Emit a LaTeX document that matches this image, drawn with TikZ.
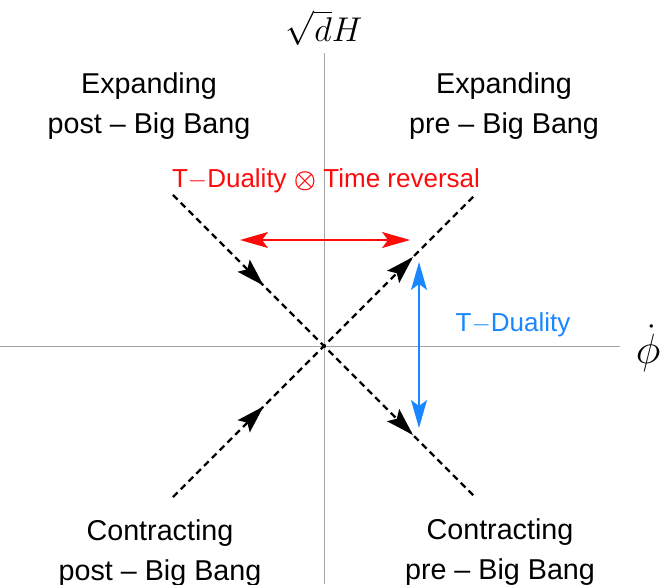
\documentclass[tikz,border=0pt]{standalone}
\usepackage{bm}
\usepackage{fontspec}
\setmainfont{Liberation Sans}
\usetikzlibrary{arrows.meta,decorations.markings}
\definecolor{dualred}{RGB}{255,10,10}
\definecolor{dualblue}{RGB}{25,135,255}
\definecolor{axisgray}{RGB}{165,165,165}

\begin{document}
\begin{tikzpicture}[x=1pt,y=1pt,
  quadrant/.style={align=center,font=\fontsize{28.7}{40}\selectfont},
  duallabel/.style={anchor=base,font=\fontsize{26}{30}\selectfont},
  flow/.style={line width=2.4pt,dash pattern=on 6.5pt off 4.5pt,postaction={decorate},
    decoration={markings,
      mark=at position 0.30 with {\arrow{Stealth[length=28pt,width=17pt,inset=5pt]}},
      mark=at position 0.795 with {\arrow{Stealth[length=28pt,width=17pt,inset=5pt]}}}},
  swap/.style={line width=1.5pt,{Stealth[length=28pt,width=16pt,inset=6pt]}-{Stealth[length=28pt,width=16pt,inset=6pt]}}]
\useasboundingbox (-324,-238) rectangle (342,346);

% axes
\draw [axisgray,line width=1pt] (-324,0) -- (296,0);
\draw [axisgray,line width=1pt] (0,-238) -- (0,293);
\node [scale=1.38] (ylab) at (0,318) {\Huge$\sqrt{d}H$};
\node [scale=1.7] (xlab) at (324,-2) {\Huge$\dot{\phi}$};

% trajectories
\coordinate (ul) at (-151,151);
\coordinate (lr) at (151,-151);
\coordinate (ll) at (-151,-151);
\coordinate (ur) at (151,151);
\draw [flow] (ul) -- (lr);
\draw [flow] (ll) -- (ur);

% dualities
\coordinate (redl) at (-84,106);
\coordinate (redr) at (86,106);
\draw [swap,dualred] (redl) -- (redr);
\node [duallabel,dualred] (redlab) at (2,158) {T$-$Duality $\bm{\otimes}$ Time reversal};
\coordinate (bluet) at (95,84);
\coordinate (blueb) at (95,-82);
\draw [swap,dualblue] (bluet) -- (blueb);
\node [duallabel,dualblue] (bluelab) at (189,15) {T$-$Duality};

% quadrants
\node [quadrant] (expost) at (-175,240) {Expanding\\post -- Big Bang};
\node [quadrant] (expre) at (180,240) {Expanding\\pre -- Big Bang};
\node [quadrant] (conpost) at (-164,-207) {Contracting\\post -- Big Bang};
\node [quadrant] (conpre) at (176,-206) {Contracting\\pre -- Big Bang};
\end{tikzpicture}
\end{document}
